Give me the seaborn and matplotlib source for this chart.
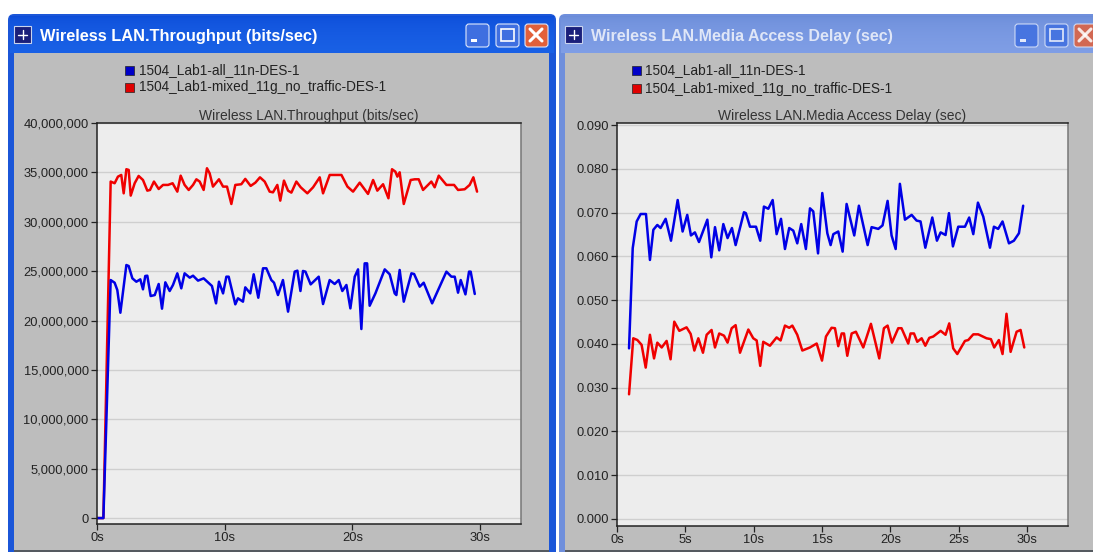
import numpy as np
import pandas as pd
import matplotlib
matplotlib.use('Agg')
import matplotlib.pyplot as plt
from matplotlib.patches import Rectangle, FancyBboxPatch
import seaborn as sns

series_names = ['1504_Lab1-all_11n-DES-1', '1504_Lab1-mixed_11g_no_traffic-DES-1']

# throughput, in millions of bits/sec
tp_blue_t = [0, 0.5, 1.07, 1.38, 1.59, 1.83, 2.30, 2.48, 2.77, 3.08, 3.39, 3.60, 3.78, 3.94, 4.20, 4.52, 4.83, 5.09, 5.35, 5.69, 5.95, 6.29, 6.60, 6.86, 7.26, 7.52, 7.91, 8.35, 9.00, 9.32, 9.55, 9.87, 10.13, 10.31, 10.83, 11.04, 11.43, 11.61, 12.00, 12.27, 12.63, 13.00, 13.26, 13.65, 13.86, 14.17, 14.56, 14.96, 15.48, 15.69, 15.93, 16.13, 16.32, 16.73, 17.36, 17.70, 18.22, 18.61, 18.93, 19.21, 19.53, 19.84, 20.18, 20.44, 20.70, 20.96, 21.15, 21.35, 21.80, 22.53, 22.92, 23.31, 23.44, 23.70, 24.02, 24.62, 24.83, 25.27, 25.58, 26.24, 27.36, 27.75, 28.01, 28.27, 28.48, 28.85, 29.13, 29.26, 29.58]
tp_blue_v = [0, 0, 24.10, 23.83, 23.09, 20.79, 25.62, 25.52, 24.27, 23.93, 24.17, 23.16, 24.51, 24.54, 22.48, 22.58, 23.70, 21.20, 23.87, 22.99, 23.60, 24.78, 23.26, 24.78, 24.34, 24.54, 24.04, 24.27, 23.50, 21.74, 23.93, 22.75, 24.44, 24.44, 21.64, 22.25, 21.91, 23.36, 22.75, 24.68, 22.31, 25.29, 25.29, 24.10, 23.83, 22.58, 24.10, 20.90, 24.95, 25.05, 22.99, 25.02, 24.95, 23.66, 24.44, 21.67, 24.10, 23.70, 24.10, 22.99, 23.60, 21.23, 24.44, 25.18, 19.14, 25.79, 25.79, 21.50, 22.75, 25.18, 24.68, 22.75, 22.58, 25.12, 21.91, 24.78, 24.71, 23.43, 23.83, 21.74, 24.95, 24.44, 24.44, 22.82, 24.10, 22.65, 24.95, 24.95, 22.69]
tp_red_t = [0, 0.5, 1.07, 1.38, 1.64, 1.90, 2.09, 2.30, 2.48, 2.64, 2.95, 3.26, 3.60, 3.94, 4.15, 4.46, 4.83, 5.17, 5.56, 5.92, 6.29, 6.55, 6.86, 7.18, 7.52, 7.78, 8.04, 8.35, 8.61, 8.82, 9.08, 9.55, 9.87, 10.18, 10.52, 10.83, 11.30, 11.61, 12.03, 12.40, 12.76, 13.13, 13.52, 13.78, 14.12, 14.35, 14.64, 14.96, 15.22, 15.61, 15.95, 16.47, 16.92, 17.44, 17.70, 18.22, 19.14, 19.61, 20.05, 20.57, 21.22, 21.62, 21.95, 22.40, 22.82, 23.10, 23.36, 23.52, 23.70, 24.02, 24.56, 24.88, 25.19, 25.53, 26.18, 26.44, 26.76, 27.36, 27.96, 28.27, 28.79, 29.18, 29.47, 29.76]
tp_red_v = [0, 0, 34.07, 33.90, 34.57, 34.74, 32.88, 35.32, 35.25, 32.65, 33.90, 34.64, 34.23, 33.15, 33.22, 34.07, 33.32, 33.73, 33.73, 33.90, 33.05, 34.67, 33.73, 33.22, 33.73, 34.30, 34.07, 33.22, 35.42, 34.91, 33.56, 34.30, 33.56, 33.56, 31.80, 33.73, 33.80, 34.34, 33.63, 33.96, 34.50, 34.07, 33.05, 32.98, 33.73, 32.14, 34.17, 33.15, 32.95, 34.07, 33.49, 32.88, 33.49, 34.50, 32.88, 34.74, 34.74, 33.56, 33.05, 33.96, 32.82, 34.23, 33.15, 33.80, 32.38, 35.32, 35.08, 34.57, 35.01, 31.80, 34.23, 34.30, 34.30, 33.22, 34.07, 33.49, 34.67, 33.73, 33.73, 33.22, 33.29, 33.73, 34.50, 33.05]

# media access delay, in milliseconds
md_blue_t = [0.88, 1.15, 1.44, 1.73, 2.12, 2.41, 2.66, 2.95, 3.19, 3.56, 3.95, 4.44, 4.80, 5.14, 5.41, 5.70, 6.00, 6.61, 6.90, 7.17, 7.48, 7.78, 8.09, 8.41, 8.68, 9.29, 9.43, 9.73, 10.17, 10.48, 10.75, 11.07, 11.39, 11.68, 12.00, 12.29, 12.60, 12.90, 13.19, 13.48, 13.82, 14.12, 14.36, 14.71, 15.02, 15.39, 15.63, 15.83, 16.19, 16.51, 16.80, 17.36, 17.70, 18.34, 18.63, 19.12, 19.43, 19.80, 20.09, 20.39, 20.70, 21.07, 21.56, 21.92, 22.21, 22.56, 23.07, 23.41, 23.68, 24.04, 24.29, 24.58, 24.97, 25.46, 25.77, 26.07, 26.41, 26.80, 27.29, 27.58, 27.89, 28.21, 28.68, 29.04, 29.41, 29.72]
md_blue_v = [39.0, 61.9, 68.0, 69.7, 69.7, 59.2, 66.1, 67.2, 66.5, 68.6, 63.6, 72.9, 65.7, 69.5, 64.8, 65.5, 63.3, 68.4, 59.8, 66.7, 61.4, 67.4, 64.2, 66.5, 62.6, 70.1, 69.9, 66.8, 66.8, 63.6, 71.4, 70.9, 72.9, 65.1, 68.6, 61.7, 66.5, 65.9, 63.0, 67.4, 61.7, 71.0, 70.3, 60.7, 74.5, 65.3, 62.6, 65.1, 65.7, 61.1, 72.0, 64.8, 71.6, 62.6, 66.7, 66.3, 67.1, 72.7, 64.8, 61.7, 76.6, 68.4, 69.5, 68.2, 68.0, 62.0, 68.9, 63.6, 65.5, 64.9, 69.9, 62.3, 66.8, 66.8, 68.9, 65.1, 72.3, 69.1, 62.0, 66.8, 66.3, 68.0, 63.0, 63.6, 65.3, 71.6]
md_red_t = [0.88, 1.19, 1.49, 1.80, 2.10, 2.41, 2.71, 2.95, 3.27, 3.63, 3.92, 4.19, 4.56, 5.09, 5.39, 5.66, 5.95, 6.29, 6.56, 6.92, 7.17, 7.48, 7.83, 8.09, 8.39, 8.68, 9.00, 9.61, 9.97, 10.22, 10.48, 10.70, 11.19, 11.68, 11.97, 12.29, 12.60, 12.83, 13.19, 13.56, 14.12, 14.61, 15.00, 15.29, 15.70, 15.95, 16.19, 16.44, 16.61, 16.85, 17.17, 17.48, 18.02, 18.58, 19.19, 19.53, 19.80, 20.12, 20.58, 20.82, 21.31, 21.48, 21.73, 21.97, 22.29, 22.56, 22.85, 23.14, 23.68, 24.04, 24.31, 24.60, 24.90, 25.46, 25.70, 26.07, 26.43, 27.04, 27.36, 27.60, 27.94, 28.21, 28.50, 28.80, 29.24, 29.53, 29.80]
md_red_v = [28.5, 41.3, 40.9, 39.8, 34.6, 42.1, 36.7, 40.3, 39.2, 40.7, 36.5, 45.1, 43.0, 43.8, 42.3, 38.5, 41.3, 38.0, 42.1, 43.2, 39.2, 42.4, 41.9, 40.3, 43.6, 44.3, 38.0, 43.3, 41.3, 40.8, 35.0, 40.5, 39.6, 41.5, 40.8, 44.2, 43.7, 44.2, 42.1, 38.5, 39.2, 40.1, 36.2, 41.7, 43.7, 43.6, 39.5, 42.4, 42.4, 37.3, 42.4, 42.8, 39.2, 44.6, 36.7, 43.6, 44.2, 40.3, 43.6, 43.6, 40.1, 42.4, 42.4, 40.5, 41.3, 39.6, 41.4, 41.7, 43.0, 42.1, 44.7, 39.0, 37.7, 40.7, 40.9, 42.2, 42.2, 41.3, 41.1, 39.2, 40.9, 37.7, 46.9, 38.2, 42.8, 43.2, 39.2]

tp_ticks = [0, 5, 10, 15, 20, 25, 30, 35, 40]
tp_tick_labels = ['0', '5,000,000', '10,000,000', '15,000,000', '20,000,000', '25,000,000', '30,000,000', '35,000,000', '40,000,000']
tp_xticks = [0, 10, 20, 30]
md_ticks = [0, 10, 20, 30, 40, 50, 60, 70, 80, 90]
md_tick_labels = ['0.000', '0.010', '0.020', '0.030', '0.040', '0.050', '0.060', '0.070', '0.080', '0.090']
md_xticks = [0, 5, 10, 15, 20, 25, 30]

W, H = 1093, 552
sns.set_theme(style='white')
plt.rcParams['font.family'] = ['Liberation Sans', 'DejaVu Sans']
fig = plt.figure(figsize=(W / 100, H / 100), dpi=100, facecolor='white')

# window chrome drawn in pixel coordinates
bg = fig.add_axes([0, 0, 1, 1], zorder=0)
bg.axis('off')


def draw_window(x0, x1, title, title_size, top_col, mid_col, edge_col, text_col, btn_alpha):
    bg.add_patch(FancyBboxPatch((x0, 14), x1 - x0, H, boxstyle='round,pad=0,rounding_size=6',
                                fc=edge_col, ec='none', zorder=0.5))
    bar = np.linspace(0, 1, 40).reshape(-1, 1)
    grad = np.array(top_col) * (1 - bar[:, None] ** 0.5) + np.array(mid_col) * bar[:, None] ** 0.5
    bg.imshow(grad, extent=(x0 + 2, x1 - 2, 53, 16), aspect='auto', zorder=1)
    bg.add_patch(Rectangle((x0 + 6, 53), x1 - x0 - 13, H - 53, fc='#bdbdbd', ec='none', zorder=2))
    bg.add_patch(Rectangle((x0 + 6, 549.5), x1 - x0 - 13, 3, fc='#555a60', ec='none', zorder=2.5))
    bg.add_patch(Rectangle((x0 + 6, 26), 17, 17, fc='#1a1f7a', ec='#c9d4ee', lw=0.8, zorder=3))
    bg.plot([x0 + 10, x0 + 19], [34.5, 34.5], color='white', lw=1, zorder=4)
    bg.plot([x0 + 14.5, x0 + 14.5], [30, 39], color='white', lw=1, zorder=4)
    bg.text(x0 + 32, 36, title, color=text_col, fontsize=title_size, fontweight='bold', va='center', zorder=4)
    # min, max and close buttons
    for bx, col in zip([x1 - 90, x1 - 60, x1 - 31], ['#3f6fe0', '#3f6fe0', '#e2603a']):
        bg.add_patch(FancyBboxPatch((bx, 24), 23, 23, boxstyle='round,pad=0,rounding_size=3',
                                    fc=col, ec='#dfe8fb', lw=0.8, alpha=btn_alpha, zorder=3))
    bg.add_patch(Rectangle((x1 - 85, 39), 6, 3, fc='white', ec='none', alpha=btn_alpha, zorder=4))
    bg.add_patch(Rectangle((x1 - 55, 29), 13, 12, fc='none', ec='white', lw=1.2, alpha=btn_alpha, zorder=4))
    bg.plot([x1 - 26, x1 - 14], [29, 41], color='white', lw=2.2, alpha=btn_alpha, zorder=4)
    bg.plot([x1 - 26, x1 - 14], [41, 29], color='white', lw=2.2, alpha=btn_alpha, zorder=4)


draw_window(8, 556, 'Wireless LAN.Throughput (bits/sec)', 11.8, (0.05, 0.30, 0.85), (0.10, 0.38, 0.90),
            '#1b56d8', 'white', 1.0)
draw_window(559, 1093 + 12, 'Wireless LAN.Media Access Delay (sec)', 11.5, (0.42, 0.55, 0.85), (0.50, 0.62, 0.90),
            '#6f8fdc', '#dfe6f7', 0.85)
bg.set_xlim(0, W)
bg.set_ylim(H, 0)


def draw_legend(x, y1, y2):
    for y, col, name in zip([y1, y2], ['#0000c8', '#e00000'], series_names):
        bg.add_patch(Rectangle((x, y - 4), 9, 9, fc=col, ec='#222222', lw=0.5, zorder=4))
        bg.text(x + 13.5, y + 0.5, name, fontsize=9.8, color='#222222', va='center', zorder=4)


draw_legend(125, 70, 87)
draw_legend(632, 70, 88)


def draw_plot(box, t_blue, v_blue, t_red, v_red, xlim, ylim, xticks, yticks, ylabels, title):
    x0, y0, x1, y1 = box
    ax = fig.add_axes([x0 / W, 1 - y1 / H, (x1 - x0) / W, (y1 - y0) / H], zorder=5)
    df_red = pd.DataFrame({'t': t_red, 'v': v_red})
    df_blue = pd.DataFrame({'t': t_blue, 'v': v_blue})
    sns.lineplot(data=df_red, x='t', y='v', color='#f00000', lw=1.8, ax=ax)
    sns.lineplot(data=df_blue, x='t', y='v', color='#0000e6', lw=1.8, ax=ax)
    ax.set_facecolor('#ededed')
    ax.set_xlim(*xlim)
    ax.set_ylim(*ylim)
    ax.set_xticks(xticks)
    ax.set_xticklabels(['%ds' % v for v in xticks])
    ax.set_yticks(yticks)
    ax.set_yticklabels(ylabels)
    ax.set_xlabel('')
    ax.set_ylabel('')
    ax.grid(axis='y', color='#cfcfcf', lw=1)
    ax.set_axisbelow(True)
    ax.tick_params(axis='both', length=4, width=0.9, color='#222222', labelsize=9.3,
                   labelcolor='#222222', pad=2, bottom=True, left=True)
    for s in ax.spines.values():
        s.set_color('#222222')
        s.set_linewidth(1.1)
    ax.spines['right'].set_color('#777777')
    ax.set_title(title, fontsize=10, color='#333333', pad=2)
    return ax


draw_plot((97, 123, 521, 524), tp_blue_t, tp_blue_v, tp_red_t, tp_red_v,
          (0, 33.2), (-0.6, 40), tp_xticks, tp_ticks, tp_tick_labels, 'Wireless LAN.Throughput (bits/sec)')
draw_plot((617, 123, 1068, 526), md_blue_t, md_blue_v, md_red_t, md_red_v,
          (0, 33), (-1.6, 90.5), md_xticks, md_ticks, md_tick_labels, 'Wireless LAN.Media Access Delay (sec)')

fig.savefig('out.png', dpi=100)
